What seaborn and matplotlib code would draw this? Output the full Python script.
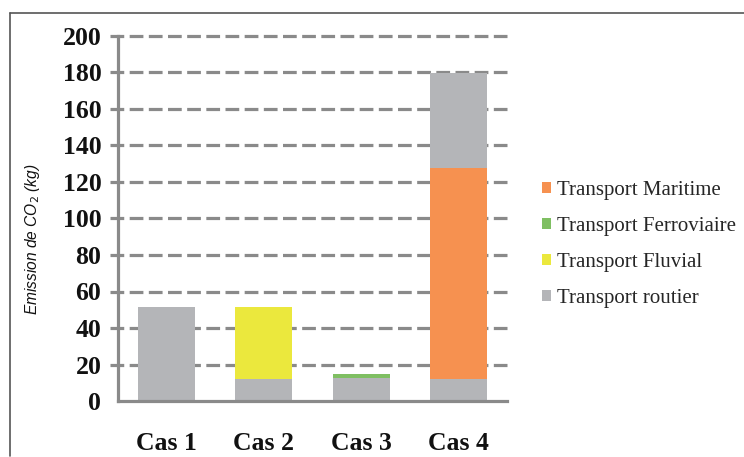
import matplotlib
matplotlib.use("Agg")
import matplotlib.pyplot as plt
from matplotlib.patches import Patch
from matplotlib.lines import Line2D
import seaborn as sns
import numpy as np
import pandas as pd

# Emissions per case, split by transport mode (kg CO2), in stacking order
cases = ["Cas 1", "Cas 2", "Cas 3", "Cas 4"]
routier_bas = [51.3, 12.2, 12.4, 12.0]
fluvial = [0.0, 39.1, 0.0, 0.0]
ferroviaire = [0.0, 0.0, 2.6, 0.0]
maritime = [0.0, 0.0, 0.0, 115.8]
routier_haut = [0.0, 0.0, 0.0, 51.7]

legend_labels = ["Transport Maritime", "Transport Ferroviaire",
                 "Transport Fluvial", "Transport routier"]

c_grey = "#B4B5B8"
c_yellow = "#EBE83D"
c_green = "#7FBF62"
c_orange = "#F69150"
grid_grey = "#8A8A8A"

sns.set_theme(style="white")

fig = plt.figure(figsize=(7.44, 4.57), dpi=100)
ax = fig.add_axes([118 / 744, 1 - 401 / 457, (507 - 118) / 744, (401 - 36) / 457])

layers = [
    (routier_bas, c_grey),
    (fluvial, c_yellow),
    (ferroviaire, c_green),
    (maritime, c_orange),
    (routier_haut, c_grey),
]
cum = np.cumsum(np.array([l[0] for l in layers]), axis=0)

# Draw cumulative totals from the top layer down so each segment shows
for i in range(len(layers) - 1, -1, -1):
    df = pd.DataFrame({"cas": cases, "val": cum[i]})
    sns.barplot(data=df, x="cas", y="val", color=layers[i][1], width=0.585,
                saturation=1, linewidth=0, edgecolor="none", ax=ax, zorder=3)

ax.set_ylim(0, 200)
ax.set_xlim(-0.5, 3.5)
ax.set_yticks(range(0, 201, 20))

for y in range(20, 201, 20):
    ax.add_line(Line2D([-0.585, 3.5], [y, y], color=grid_grey, lw=2.3,
                       dashes=(4.3, 1.7), zorder=1, clip_on=False))

for side in ["top", "right"]:
    ax.spines[side].set_visible(False)
for side in ["left", "bottom"]:
    ax.spines[side].set_color(grid_grey)
    ax.spines[side].set_linewidth(2.3)
    ax.spines[side].set_zorder(4)

ax.tick_params(axis="y", direction="out", length=6, width=2.3, color=grid_grey,
               pad=6)
ax.tick_params(axis="x", length=0, pad=22)
for lab in ax.get_yticklabels() + ax.get_xticklabels():
    lab.set_fontfamily("Liberation Serif")
    lab.set_fontweight("bold")
    lab.set_fontsize(18.5)
    lab.set_color("#111111")

ax.set_xlabel("")
ax.set_ylabel("Emission de CO$_2$ (kg)", fontsize=11.2, fontstyle="italic",
              fontfamily="Liberation Sans", color="#111111")
ax.yaxis.set_label_coords(-0.195, 0.444)

handles = [Patch(facecolor=c, edgecolor="none") for c in [c_orange, c_green, c_yellow, c_grey]]
fig.legend(handles, legend_labels, loc="upper left",
           bbox_to_anchor=(542 / 744, 1 - 181 / 457), frameon=False,
           prop={"family": "Liberation Serif", "size": 15},
           handlelength=0.42, handleheight=0.42, handletextpad=0.3,
           labelspacing=0.82, borderaxespad=0, borderpad=0)

# Outer frame lines (top and left)
fig.add_artist(Line2D([9.5 / 744, 1.0], [1 - 12.5 / 457, 1 - 12.5 / 457],
                      color="#555555", lw=1.2, transform=fig.transFigure))
fig.add_artist(Line2D([9.5 / 744, 9.5 / 744], [1 - 12.5 / 457, 0.003],
                      color="#555555", lw=1.2, transform=fig.transFigure))

fig.savefig("out.png", dpi=100)
